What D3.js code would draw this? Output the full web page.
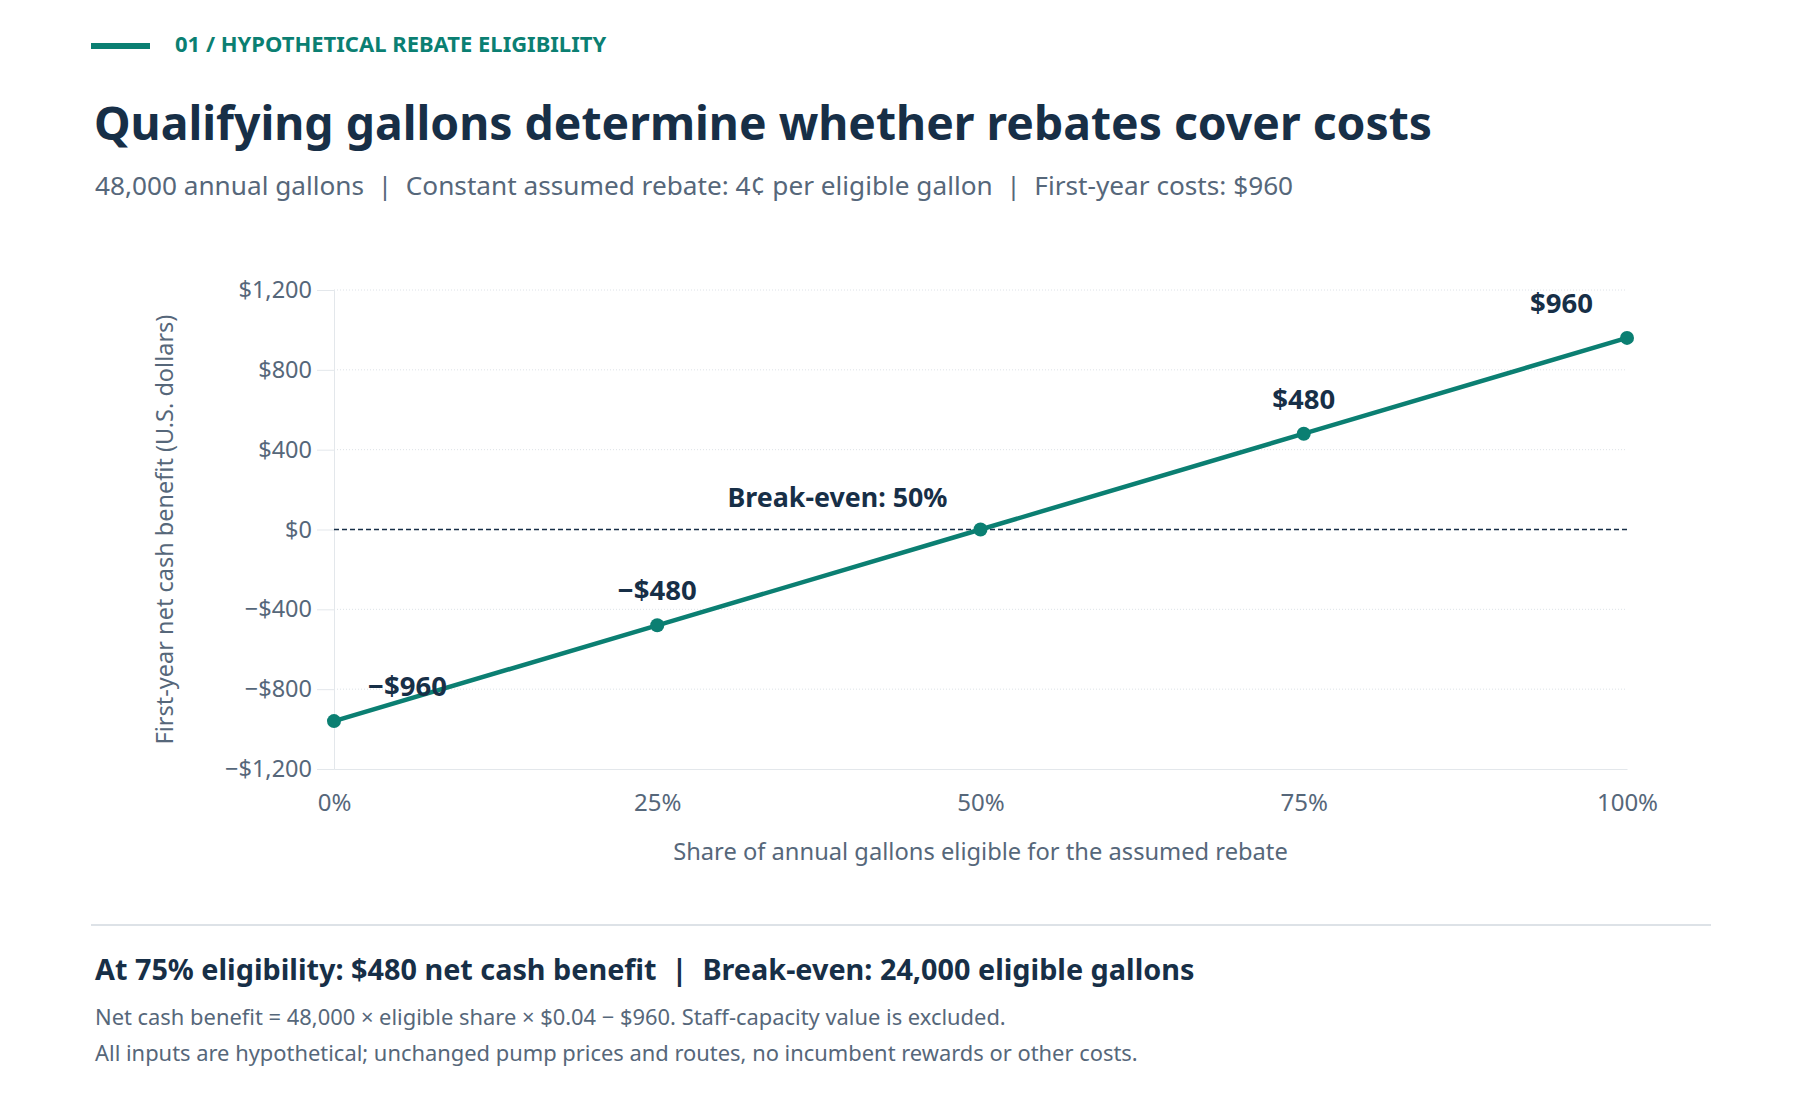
<!DOCTYPE html>
<html>
<head>
<meta charset="utf-8">
<script src="https://cdn.jsdelivr.net/npm/d3@7"></script>
<style>
  html, body { margin: 0; padding: 0; background: #ffffff; }
  svg { display: block; font-family: "Segoe UI", "Noto Sans", sans-serif; }
</style>
</head>
<body>
<svg id="chart" width="1800" height="1120"></svg>
<script>
// ---- data ----
const eligibleShare = [0, 25, 50, 75, 100];            // % of annual gallons eligible
const netBenefit    = [-960, -480, 0, 480, 960];        // first-year net cash benefit, USD
const pointLabels   = ["\u2212$960", "\u2212$480", "", "$480", "$960"];
const yTicks        = [-1200, -800, -400, 0, 400, 800, 1200];
const xTicks        = [0, 25, 50, 75, 100];
const breakEvenShare = 50;

const texts = {
  kicker: "01 / HYPOTHETICAL REBATE ELIGIBILITY",
  title: "Qualifying gallons determine whether rebates cover costs",
  subtitle: "48,000 annual gallons  |  Constant assumed rebate: 4\u00a2 per eligible gallon  |  First-year costs: $960",
  xTitle: "Share of annual gallons eligible for the assumed rebate",
  yTitle: "First-year net cash benefit (U.S. dollars)",
  breakEven: "Break-even: 50%",
  summary: "At 75% eligibility: $480 net cash benefit  |  Break-even: 24,000 eligible gallons",
  note1: "Net cash benefit = 48,000 \u00d7 eligible share \u00d7 $0.04 \u2212 $960. Staff-capacity value is excluded.",
  note2: "All inputs are hypothetical; unchanged pump prices and routes, no incumbent rewards or other costs."
};

// ---- style ----
const FONT = '"Segoe UI", "Noto Sans", sans-serif';
const TEAL = "#0b7f72", NAVY = "#172f47", GRAY = "#56677a", GRID = "#e3e7eb";

const svg = d3.select("#chart");

// header
svg.append("line").attr("x1", 91).attr("x2", 150).attr("y1", 46).attr("y2", 46)
  .attr("stroke", TEAL).attr("stroke-width", 6);
svg.append("text").attr("x", 175).attr("y", 52).text(texts.kicker)
  .attr("fill", TEAL).attr("font-size", 22).attr("font-weight", 700);
svg.append("text").attr("x", 94).attr("y", 140).text(texts.title)
  .attr("fill", NAVY).attr("font-size", 46.3).attr("font-weight", 700);
svg.append("text").attr("x", 95).attr("y", 195).text(texts.subtitle)
  .attr("fill", GRAY).attr("font-size", 26.2).style("white-space", "pre");

// plot area
const m = { left: 334, right: 1627, top: 290, bottom: 769 };
const x = d3.scaleLinear().domain([0, 100]).range([m.left, m.right]);
const y = d3.scaleLinear().domain([-1200, 1200]).range([m.bottom, m.top]);

const g = svg.append("g");

// gridlines
g.append("g").selectAll("line").data(yTicks.filter(d => d !== -1200 && d !== 0)).join("line")
  .attr("x1", m.left).attr("x2", m.right).attr("y1", d => y(d)).attr("y2", d => y(d))
  .attr("stroke", "#dde2e7").attr("stroke-width", 1).attr("stroke-dasharray", "1,2");

// y axis
const yAxis = g.append("g").attr("transform", `translate(${m.left},0)`)
  .call(d3.axisLeft(y).tickValues(yTicks).tickSize(17).tickPadding(5)
    .tickFormat(d => (d < 0 ? "\u2212" : "") + "$" + d3.format(",")(Math.abs(d))))
  .attr("font-family", FONT).attr("font-size", 23.5);
yAxis.select(".domain").attr("stroke", GRID);
yAxis.selectAll(".tick line").attr("stroke", GRID);
yAxis.selectAll(".tick text").attr("fill", GRAY);

// x axis
const xAxis = g.append("g").attr("transform", `translate(0,${m.bottom})`)
  .call(d3.axisBottom(x).tickValues(xTicks).tickSize(0).tickPadding(25).tickFormat(d => d + "%"))
  .attr("font-family", FONT).attr("font-size", 24);
xAxis.select(".domain").attr("stroke", GRID);
xAxis.selectAll(".tick text").attr("fill", GRAY);

// zero reference line
g.append("line").attr("x1", m.left).attr("x2", m.right).attr("y1", y(0)).attr("y2", y(0))
  .attr("stroke", NAVY).attr("stroke-width", 1.5).attr("stroke-dasharray", "5,3");

// axis titles
svg.append("text").attr("x", (m.left + m.right) / 2).attr("y", 860).attr("text-anchor", "middle")
  .text(texts.xTitle).attr("fill", GRAY).attr("font-size", 23.7);
svg.append("text").attr("transform", `translate(173,${(m.top + m.bottom) / 2}) rotate(-90)`)
  .attr("text-anchor", "middle").text(texts.yTitle).attr("fill", GRAY).attr("font-size", 23.5);

// line + points
const pts = eligibleShare.map((s, i) => ({ s, v: netBenefit[i], label: pointLabels[i] }));
g.append("path").datum(pts)
  .attr("d", d3.line().x(d => x(d.s)).y(d => y(d.v)))
  .attr("fill", "none").attr("stroke", TEAL).attr("stroke-width", 4.5);
g.append("g").selectAll("circle").data(pts).join("circle")
  .attr("cx", d => x(d.s)).attr("cy", d => y(d.v)).attr("r", 7).attr("fill", TEAL);

// point labels
g.append("g").selectAll("text").data(pts.filter(d => d.label)).join("text")
  .attr("x", d => d.s === 0 ? x(d.s) + 34 : d.s === 100 ? x(d.s) - 34 : x(d.s))
  .attr("y", d => y(d.v) - 25)
  .attr("text-anchor", d => d.s === 0 ? "start" : d.s === 100 ? "end" : "middle")
  .text(d => d.label).attr("fill", NAVY).attr("font-size", 27.5).attr("font-weight", 700);

// break-even label
g.append("text").attr("x", x(breakEvenShare) - 33).attr("y", y(0) - 23).attr("text-anchor", "end")
  .text(texts.breakEven).attr("fill", NAVY).attr("font-size", 26.8).attr("font-weight", 700);

// footer
svg.append("line").attr("x1", 91).attr("x2", 1711).attr("y1", 925).attr("y2", 925)
  .attr("stroke", "#dde2e7").attr("stroke-width", 2);
svg.append("text").attr("x", 95).attr("y", 980).text(texts.summary)
  .attr("fill", NAVY).attr("font-size", 28.8).attr("font-weight", 700).style("white-space", "pre");
svg.append("text").attr("x", 95).attr("y", 1025).text(texts.note1)
  .attr("fill", GRAY).attr("font-size", 21.9);
svg.append("text").attr("x", 95).attr("y", 1061).text(texts.note2)
  .attr("fill", GRAY).attr("font-size", 21.9);
</script>
</body>
</html>
